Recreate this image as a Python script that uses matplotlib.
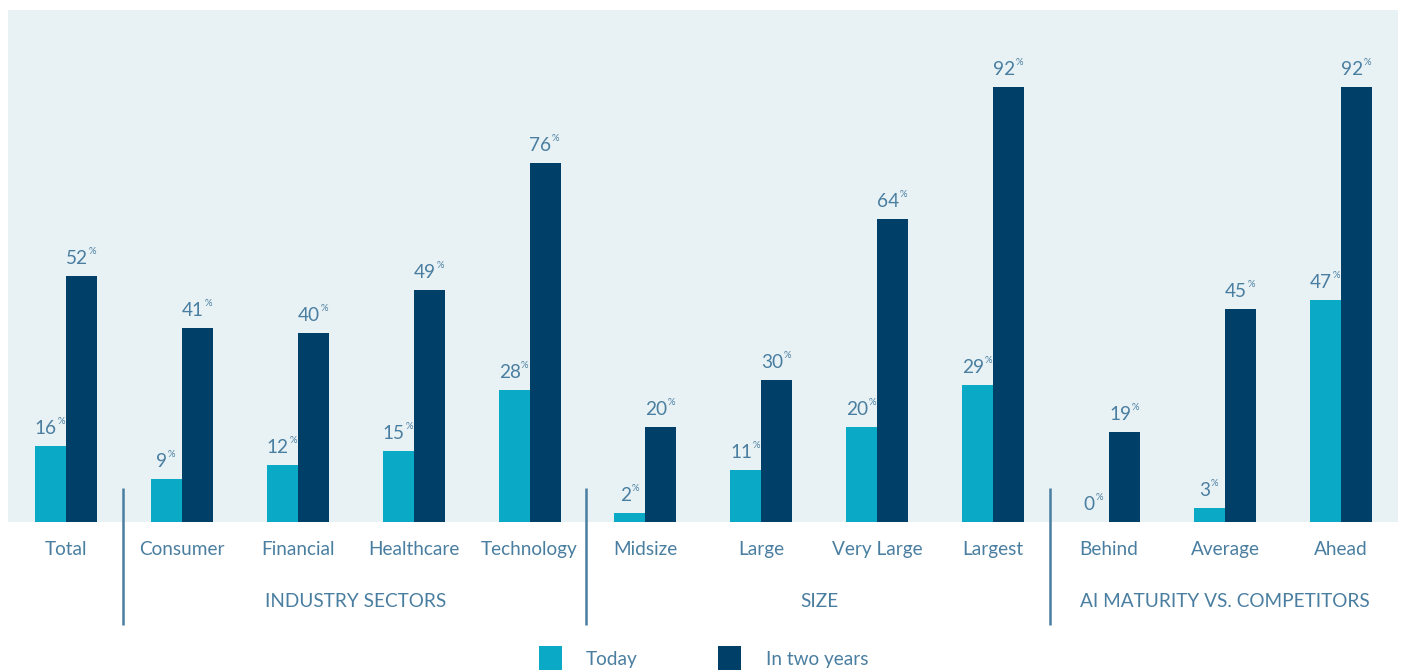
import matplotlib
matplotlib.use("Agg")
import matplotlib.pyplot as plt
import matplotlib.transforms as mtransforms
from matplotlib.patches import Rectangle
import numpy as np

plt.rcParams['font.family'] = ['Lato', 'DejaVu Sans']

# Data
categories = ["Total", "Consumer", "Financial", "Healthcare", "Technology",
              "Midsize", "Large", "Very Large", "Largest",
              "Behind", "Average", "Ahead"]
today = [16, 9, 12, 15, 28, 2, 11, 20, 29, 0, 3, 47]
two_years = [52, 41, 40, 49, 76, 20, 30, 64, 92, 19, 45, 92]
group_names = ["INDUSTRY SECTORS", "SIZE", "AI MATURITY VS. COMPETITORS"]
group_spans = [(1, 4), (5, 8), (9, 11)]
series_names = ["Today", "In two years"]

# Styling
C_TODAY = "#0aa9c6"
C_TWO = "#003f68"
C_TEXT = "#4a7ea0"
C_BG = "#e8f2f5"
FS = 13.7

W, H = 1403, 671
fig = plt.figure(figsize=(W / 100, H / 100), dpi=100)
ax = fig.add_axes([8 / W, 1 - 522 / H, (1398 - 8) / W, (522 - 10) / H])
ax.set_facecolor(C_BG)
for s in ax.spines.values():
    s.set_visible(False)
ax.set_xticks([])
ax.set_yticks([])

x = np.arange(len(categories))
bw = 31 / 116
ax.bar(x - bw / 2, today, width=bw, color=C_TODAY, linewidth=0)
ax.bar(x + bw / 2, two_years, width=bw, color=C_TWO, linewidth=0)
ax.set_xlim(-0.5, 11.493)
ax.set_ylim(0, 108.3)


def value_label(xc, v):
    num = ax.annotate(f"{v}", xy=(xc, v), xytext=(-4.5, 12),
                      textcoords="offset pixels", ha="center", va="baseline",
                      fontsize=FS, color=C_TEXT, annotation_clip=False)
    ax.annotate("%", xy=(1, 1), xycoords=num, xytext=(0.5, 3),
                textcoords="offset pixels", ha="left", va="top",
                fontsize=6.8, color=C_TEXT, annotation_clip=False)


for i in range(len(categories)):
    value_label(x[i] - bw / 2, today[i])
    value_label(x[i] + bw / 2, two_years[i])

# Category and group labels, with a divider before each group
tr = mtransforms.blended_transform_factory(ax.transData, fig.transFigure)
for i, c in enumerate(categories):
    ax.text(x[i], 1 - 555 / H, c, transform=tr, ha="center", va="baseline",
            fontsize=FS, color=C_TEXT)
for name, (a, b) in zip(group_names, group_spans):
    ax.text((a + b) / 2, 1 - 607 / H, name, transform=tr, ha="center",
            va="baseline", fontsize=FS, color=C_TEXT)
    ax.plot([a - 0.51, a - 0.51], [1 - 488 / H, 1 - 625 / H], transform=tr,
            color=C_TEXT, lw=1.8, clip_on=False, solid_capstyle="butt")

# Legend
for (sx, tx), name, col in zip([(539, 586), (718, 766)], series_names,
                               [C_TODAY, C_TWO]):
    fig.add_artist(Rectangle((sx / W, 1 - 670 / H), 23 / W, 24 / H,
                             transform=fig.transFigure, color=col, lw=0))
    fig.text(tx / W, 1 - 665 / H, name, ha="left", va="baseline",
             fontsize=FS, color=C_TEXT)

fig.savefig("out.png", dpi=100, facecolor="white")
